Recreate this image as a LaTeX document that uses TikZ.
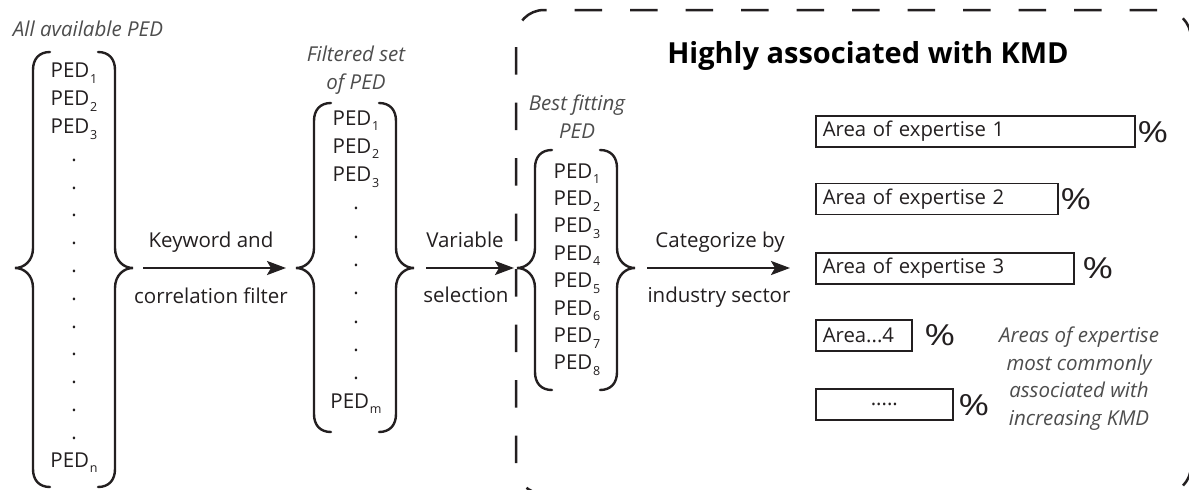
\documentclass[tikz,border=0pt]{standalone}
\usepackage{fontspec}
\usepackage{graphicx}
\setmainfont{Open Sans}
\usetikzlibrary{arrows.meta}

\definecolor{ink}{HTML}{231F20}
\definecolor{notegray}{HTML}{4D4D4D}

% PED with its index set low and small
\newcommand\ped[1]{PED\kern0.8pt\raisebox{-5.5pt}{\fontsize{12.5}{12.5}\selectfont #1}}
\newcommand\pct{\scalebox{1.3}[1]{\%}}

% a pair of curly braces round a column, with in/out points at the tips
% #1 name, #2 centre x, #3 top, #4 bottom, #5 middle
\newcommand\pedbraces[5]{%
  \draw[bracestroke] (#2-24,#3) .. controls (#2-35,#3) and (#2-41,#3+7) .. (#2-41,#3+18)
     -- (#2-41,#5-20) .. controls (#2-41,#5-7) and (#2-50,#5) .. (#2-59,#5)
     .. controls (#2-50,#5) and (#2-41,#5+7) .. (#2-41,#5+20)
     -- (#2-41,#4-18) .. controls (#2-41,#4-7) and (#2-35,#4) .. (#2-24,#4);
  \draw[bracestroke] (#2+24,#3) .. controls (#2+35,#3) and (#2+41,#3+7) .. (#2+41,#3+18)
     -- (#2+41,#5-20) .. controls (#2+41,#5-7) and (#2+50,#5) .. (#2+59,#5)
     .. controls (#2+50,#5) and (#2+41,#5+7) .. (#2+41,#5+20)
     -- (#2+41,#4-18) .. controls (#2+41,#4-7) and (#2+35,#4) .. (#2+24,#4);
  \coordinate (#1-in) at (#2-59,#5);
  \coordinate (#1-out) at (#2+59,#5);
}

\tikzset{
  pedcol/.style={align=center, text=ink, inner sep=0pt},
  bracestroke/.style={draw=ink, line width=2.4pt, line cap=round},
  flowarrow/.style={draw=ink, line width=2.4pt, -{Stealth[length=19pt,width=14pt,inset=4pt]}},
  steplabel/.style={font=\fontsize{20.5}{25}\selectfont, text=ink, anchor=base, inner sep=0pt},
  sidenote/.style={font=\itshape\fontsize{20.5}{27.7}\selectfont, text=notegray, align=center, inner sep=0pt},
  barbox/.style={draw=ink, line width=1.6pt, minimum height=31pt, anchor=west, inner xsep=7pt, inner ysep=0pt,
                 font=\fontsize{20.3}{25}\selectfont, text=ink},
  pctmark/.style={font=\fontsize{29}{29}\selectfont, text=ink, inner sep=0pt},
  groupframe/.style={draw=ink, line width=2.5pt, dash pattern=on 27.5pt off 28pt, rounded corners=28pt},
}

\begin{document}
\begin{tikzpicture}[x=1pt, y=-1pt]
\useasboundingbox (0,0) rectangle (1189,490);
\fill[white] (0,0) rectangle (1189,490);
\clip (0,0) rectangle (1189,490);

% dashed group round the result, drawn both ways from one point of its left side
\draw[groupframe] (516,463) -- (516,10) -- (1191,10) -- (1191,494) -- (870,494);
\draw[groupframe, dash phase=27.5pt] (516,463) -- (516,494) -- (870,494);

% column 1: all PED
\node[sidenote, anchor=base] (allcap) at (88,36) {All available PED};
\node[pedcol, font=\fontsize{20.5}{27.8}\selectfont] (all) at (74,268)
  {\ped{1}\\ \ped{2}\\ \ped{3}\\ .\\ .\\ .\\ .\\ .\\ .\\ .\\ .\\ .\\ .\\ .\\ \ped{n}};
\pedbraces{b1}{74}{52}{487}{268}

% column 2: filtered PED
\node[sidenote] (filtcap) at (356,70) {Filtered set\\of PED};
\node[pedcol, font=\fontsize{20.5}{28.3}\selectfont] (filtered) at (356,262)
  {\ped{1}\\ \ped{2}\\ \ped{3}\\ .\\ .\\ .\\ .\\ .\\ .\\ .\\ \ped{m}};
\pedbraces{b2}{355}{103}{432}{268}

% column 3: best fitting PED
\node[sidenote] (bestcap) at (577,117) {Best fitting\\PED};
\node[pedcol, font=\fontsize{20.5}{27.4}\selectfont] (best) at (577,269.5)
  {\ped{1}\\ \ped{2}\\ \ped{3}\\ \ped{4}\\ \ped{5}\\ \ped{6}\\ \ped{7}\\ \ped{8}};
\pedbraces{b3}{576}{150}{390}{268}

% flow between the columns
\coordinate (sink) at (790,268);
\draw[flowarrow, shorten <=10pt, shorten >=10pt] (b1-out) -- (b2-in);
\draw[flowarrow, shorten <=12pt, shorten >=3pt] (b2-out) -- (b3-in);
\draw[flowarrow, shorten <=12pt] (b3-out) -- (sink);

\node[steplabel] (kw1) at (211,247) {Keyword and};
\node[steplabel] (kw2) at (211,303) {correlation filter};
\node[steplabel] (vs1) at (465,247) {Variable};
\node[steplabel] (vs2) at (466,302) {selection};
\node[steplabel] (cat1) at (720,247) {Categorize by};
\node[steplabel] (cat2) at (719,302) {industry sector};

% result
\node[anchor=base, inner sep=0pt, text=black, font=\bfseries\fontsize{29}{29}\selectfont] (title) at (868,63)
  {Highly associated with KMD};

\node[barbox, minimum width=319pt, text width=305pt, align=left] (area1) at (815,131.5) {Area of expertise 1};
\node[barbox, minimum width=242pt, text width=228pt, align=left] (area2) at (815,199) {Area of expertise 2};
\node[barbox, minimum width=258pt, text width=244pt, align=left] (area3) at (815,268.5) {Area of expertise 3};
\node[barbox, minimum width=96pt, text width=82pt, align=left] (area4) at (815,335.5) {Area...4};
\node[barbox, minimum width=137pt, text width=123pt, align=center] (area5) at (815,404.5) {.....};

\node[pctmark] (p1) at (1153,132) {\pct};
\node[pctmark] (p2) at (1076,199) {\pct};
\node[pctmark] (p3) at (1098,268) {\pct};
\node[pctmark] (p4) at (940,335) {\pct};
\node[pctmark] (p5) at (974,405) {\pct};

\node[sidenote] (areacap) at (1079,378.5)
  {Areas of expertise\\most commonly\\associated with\\increasing KMD};
\end{tikzpicture}
\end{document}
